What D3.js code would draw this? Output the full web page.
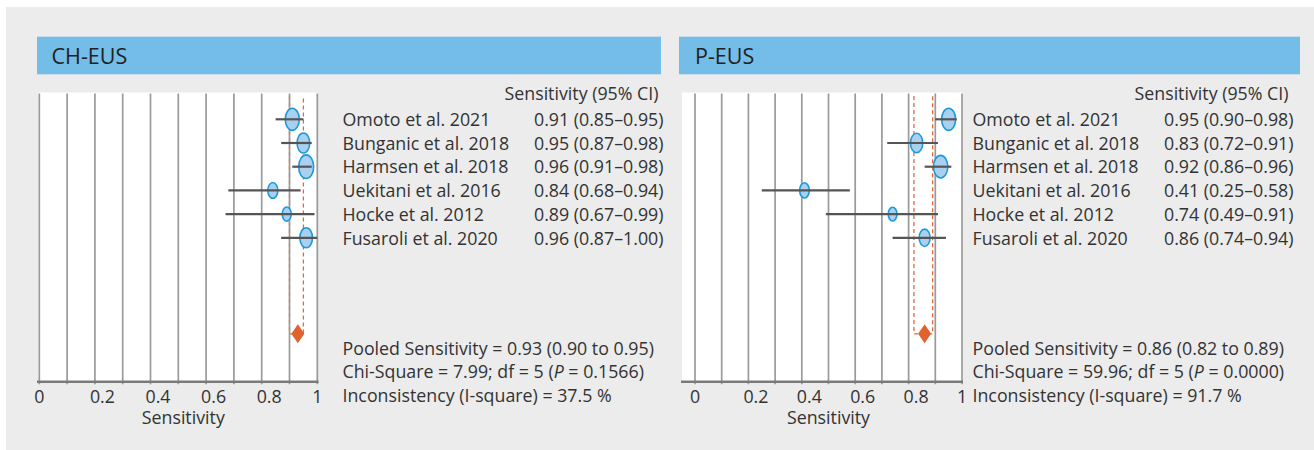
<!DOCTYPE html>
<html>
<head>
<meta charset="utf-8">
<script src="https://cdn.jsdelivr.net/npm/d3@7"></script>
<style>
  html, body { margin: 0; padding: 0; background: #ffffff; }
  svg { display: block; font-family: "Open Sans", "Noto Sans", sans-serif; }
</style>
</head>
<body>
<svg id="chart" width="1314" height="450"></svg>
<script>
// ---------------- DATA ----------------
const studies = ["Omoto et al. 2021", "Bunganic et al. 2018", "Harmsen et al. 2018",
                 "Uekitani et al. 2016", "Hocke et al. 2012", "Fusaroli et al. 2020"];

// CH-EUS
const chSens  = [0.91, 0.95, 0.96, 0.84, 0.89, 0.96];
const chLow   = [0.85, 0.87, 0.91, 0.68, 0.67, 0.87];
const chHigh  = [0.95, 0.98, 0.98, 0.94, 0.99, 1.00];
const chWeight = [49, 40, 56, 25, 20, 40];           // relative study weight (marker size)
const chPooled = {est: 0.93, low: 0.90, high: 0.95};
const chStats = ["Pooled Sensitivity = 0.93 (0.90 to 0.95)",
                 ["Chi-Square = 7.99; df = 5 (", "P", " = 0.1566)"],
                 "Inconsistency (I-square) = 37.5 %"];

// P-EUS
const pSens  = [0.95, 0.83, 0.92, 0.41, 0.74, 0.86];
const pLow   = [0.90, 0.72, 0.86, 0.25, 0.49, 0.74];
const pHigh  = [0.98, 0.91, 0.96, 0.58, 0.91, 0.94];
const pWeight = [49, 38, 51, 23, 19, 30];
const pPooled = {est: 0.86, low: 0.82, high: 0.89};
const pStats = ["Pooled Sensitivity = 0.86 (0.82 to 0.89)",
                ["Chi-Square = 59.96; df = 5 (", "P", " = 0.0000)"],
                "Inconsistency (I-square) = 91.7 %"];

const tickValues = [0, 0.2, 0.4, 0.6, 0.8, 1];
const tickLabels = ["0", "0.2", "0.4", "0.6", "0.8", "1"];
const gridValues = [0, 0.1, 0.2, 0.3, 0.4, 0.5, 0.6, 0.7, 0.8, 0.9, 1];
const columnHeader = "Sensitivity (95% CI)";
const axisTitle = "Sensitivity";

const fmt = d3.format(".2f");

// ---------------- LAYOUT ----------------
const svg = d3.select("#chart");
svg.append("rect").attr("x", 6).attr("y", 7).attr("width", 1308).attr("height", 443)
   .attr("fill", "#ebeceb");

const panels = [
  {title: "CH-EUS", sens: chSens, low: chLow, high: chHigh, weight: chWeight, pooled: chPooled, stats: chStats,
   barX0: 37, barX1: 661, titleX: 51.5, whiteX0: 38, whiteX1: 318, x0: 39.3, x1: 317.3,
   textX: 342.5, valueRight: 663.5, titleDx: 5},
  {title: "P-EUS", sens: pSens, low: pLow, high: pHigh, weight: pWeight, pooled: pPooled, stats: pStats,
   barX0: 679, barX1: 1300, titleX: 695, whiteX0: 682, whiteX1: 962.5, x0: 695, x1: 962,
   textX: 972.5, valueRight: 1293.5, titleDx: 0}
];

const yRow = d3.scaleLinear().domain([0, 5]).range([119.3, 237.8]);
const plotTop = 92.5, axisY = 381.7;
const rScale = d3.scaleSqrt().domain([0, 49]).range([0, 7]);
const FS = 17.8;

panels.forEach(p => {
  const g = svg.append("g");
  const x = d3.scaleLinear().domain([0, 1]).range([p.x0, p.x1]);

  // header bar
  g.append("rect").attr("x", p.barX0).attr("y", 36.7).attr("width", p.barX1 - p.barX0).attr("height", 37.6)
    .attr("fill", "#74bde8");
  g.append("text").attr("x", p.titleX).attr("y", 56.5).attr("dy", "0.35em")
    .attr("font-size", 21.5).attr("fill", "#222").text(p.title);

  // white plot area
  g.append("rect").attr("x", p.whiteX0).attr("y", plotTop).attr("width", p.whiteX1 - p.whiteX0)
    .attr("height", axisY - plotTop).attr("fill", "#ffffff");

  // pooled dashed box
  const py = yRow(9.05);
  const dashTop = 96;
  g.append("path")
    .attr("d", `M${x(p.pooled.low)},${dashTop} V${py} H${x(p.pooled.high)} V${dashTop}`)
    .attr("fill", "none").attr("stroke", "#e06a3e").attr("stroke-width", 1.3)
    .attr("stroke-dasharray", "4,3");

  // gridlines (drawn over the dashed box, as in the original)
  const grid = g.append("g").attr("transform", `translate(0,${axisY + 2.5})`)
    .call(d3.axisBottom(x).offset(0).tickValues(gridValues).tickSize(-(axisY + 2.5 - plotTop - 1)).tickFormat(""));
  grid.select(".domain").remove();
  grid.selectAll(".tick line").attr("stroke", "#9a9a9a").attr("stroke-width", 1.7);

  // axis line
  g.append("line").attr("x1", p.whiteX0 - 1).attr("x2", p.whiteX1 + 0.5).attr("y1", axisY).attr("y2", axisY)
    .attr("stroke", "#7a7a7a").attr("stroke-width", 2.5);

  // tick labels
  const ax = g.append("g").attr("transform", `translate(0,${axisY})`)
    .call(d3.axisBottom(x).offset(0).tickValues(tickValues).tickSize(0).tickPadding(8.5)
      .tickFormat((d, i) => tickLabels[i]));
  ax.select(".domain").remove();
  ax.selectAll(".tick text").attr("font-size", 17.8).attr("fill", "#333")
    .attr("font-family", "'Open Sans', 'Noto Sans', sans-serif")
    .attr("dx", (d) => (d > 0 && d < 1) ? 7.5 : 0);

  g.append("text").attr("x", x(0.5) + p.titleDx).attr("y", 418).attr("dy", "0.35em")
    .attr("text-anchor", "middle").attr("font-size", 17.8).attr("fill", "#333").text(axisTitle);

  // markers
  const rows = studies.map((s, i) => ({name: s, est: p.sens[i], lo: p.low[i], hi: p.high[i], w: p.weight[i], i}));
  g.selectAll("ellipse.m").data(rows).join("ellipse").attr("class", "m")
    .attr("cx", d => x(d.est)).attr("cy", d => yRow(d.i))
    .attr("rx", d => rScale(d.w)).attr("ry", d => rScale(d.w) * 1.58)
    .attr("fill", "#a9d1ef").attr("stroke", "#1d9ad9").attr("stroke-width", 1.6);
  g.selectAll("line.ci").data(rows).join("line").attr("class", "ci")
    .attr("x1", d => x(d.lo)).attr("x2", d => x(d.hi))
    .attr("y1", d => yRow(d.i)).attr("y2", d => yRow(d.i))
    .attr("stroke", "#555").attr("stroke-width", 2.2);

  // pooled diamond
  const dx = x(p.pooled.est);
  g.append("path").attr("d", `M${dx},${py - 9.5} L${dx + 6.5},${py} L${dx},${py + 9.5} L${dx - 6.5},${py} Z`)
    .attr("fill", "#e0622f");

  // text columns
  g.append("text").attr("x", p.valueRight - 5).attr("y", yRow(-1.07)).attr("dy", "0.35em")
    .attr("text-anchor", "end").attr("font-size", FS).attr("fill", "#333").text(columnHeader);
  g.selectAll("text.name").data(rows).join("text").attr("class", "name")
    .attr("x", p.textX).attr("y", d => yRow(d.i) + 0.5).attr("dy", "0.35em")
    .attr("font-size", FS).attr("fill", "#333").text(d => d.name);
  g.selectAll("text.val").data(rows).join("text").attr("class", "val")
    .attr("x", p.valueRight).attr("y", d => yRow(d.i) + 0.5).attr("dy", "0.35em")
    .attr("text-anchor", "end").attr("font-size", FS).attr("fill", "#333")
    .text(d => `${fmt(d.est)} (${fmt(d.lo)}–${fmt(d.hi)})`);

  // stats
  p.stats.forEach((s, k) => {
    const t = g.append("text").attr("x", p.textX).attr("y", 348.3 + k * 23.85).attr("dy", "0.35em")
      .attr("font-size", FS).attr("fill", "#333");
    if (Array.isArray(s)) {
      t.append("tspan").text(s[0]);
      t.append("tspan").attr("font-style", "italic").text(s[1]);
      t.append("tspan").text(s[2]);
    } else t.text(s);
  });
});
</script>
</body>
</html>
